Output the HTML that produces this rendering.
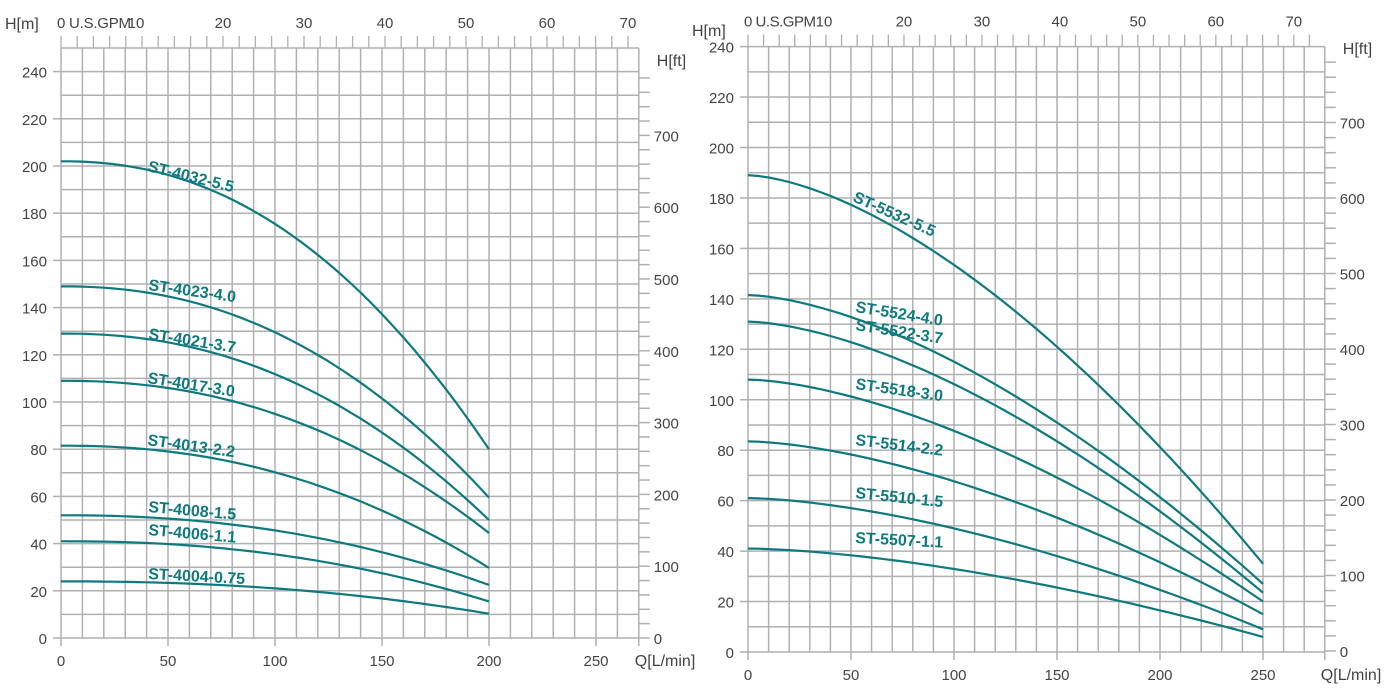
<!DOCTYPE html>
<html><head><meta charset="utf-8"><style>
html,body{margin:0;padding:0;background:#fff;}
svg{display:block;}
text{font-family:"Liberation Sans",sans-serif;fill:#444;}
.lab{font-weight:bold;font-size:16px;fill:#0e7a80;}
</style></head><body>
<svg id="s" width="1398" height="695" xmlns="http://www.w3.org/2000/svg"></svg>
<script>
const s=document.getElementById('s');let h='';
function chart(c){
  const X=q=>c.x0+q*c.sx, Y=m=>c.y0-m*c.sy;
  const right=X(c.qmax), top=Y(c.hmax);
  for(let q=0;q<=c.qmax;q+=10) h+=`<line x1="${X(q)}" y1="${top}" x2="${X(q)}" y2="${c.y0}" stroke="#b0b0b0" stroke-width="1.5"/>`;
  for(let m=0;m<=c.hmax;m+=10) h+=`<line x1="${X(0)}" y1="${Y(m)}" x2="${right}" y2="${Y(m)}" stroke="#b0b0b0" stroke-width="1.5"/>`;
  for(let m=0;m<=c.hmax;m+=20){h+=`<line x1="${X(0)-8}" y1="${Y(m)}" x2="${X(0)}" y2="${Y(m)}" stroke="#b0b0b0" stroke-width="1.5"/>`;
    h+=`<text x="${X(0)-14}" y="${Y(m)+6}" font-size="15" text-anchor="end">${m}</text>`;}
  h+=`<text x="${c.hx}" y="${c.hy}" font-size="16">H[m]</text>`;
  for(let q=0;q<=250;q+=50){h+=`<line x1="${X(q)}" y1="${c.y0}" x2="${X(q)}" y2="${c.y0+8}" stroke="#b0b0b0" stroke-width="1.5"/>`;
    h+=`<text x="${X(q)}" y="${c.y0+28}" font-size="15" text-anchor="middle">${q}</text>`;}
  h+=`<line x1="${right}" y1="${c.y0}" x2="${right}" y2="${c.y0+8}" stroke="#b0b0b0" stroke-width="1.5"/>`;
  h+=`<text x="${right-4}" y="${c.y0+28}" font-size="16">Q[L/min]</text>`;
  for(let g=0;g<=72;g+=2){const x=X(g*3.785);if(x>right+1)break;
    h+=`<line x1="${x}" y1="${top-12}" x2="${x}" y2="${top}" stroke="#b0b0b0" stroke-width="1.3"/>`;
    if(g%10==0&&g>0) h+=`<text x="${x+(g==10?c.tenoff:0)}" y="${top-20}" font-size="15" text-anchor="middle">${g}</text>`;}
  h+=`<text x="${X(0)-4}" y="${top-20}" font-size="15" textLength="${c.gpmw}">0 U.S.GPM</text>`;
  for(let f=0;f<=780;f+=20){const y=c.fy0-f*c.fsy; if(y<top+10)break;
    h+=`<line x1="${right}" y1="${y}" x2="${right+11}" y2="${y}" stroke="#b0b0b0" stroke-width="1.5"/>`;
    if(f%100==0) h+=`<text x="${right+15}" y="${y+6}" font-size="15">${f}</text>`;}
  h+=`<text x="${right+18}" y="${c.fty}" font-size="16">H[ft]</text>`;
  c.curves.forEach(k=>{let p='';for(let i=0;i<=50;i++){const t=i/50;const q=t*c.qend;const m=k[0]-(k[0]-k[1])*Math.pow(t,c.pw);
    p+=(i?'L':'M')+X(q).toFixed(1)+','+Y(m).toFixed(1);}
    h+=`<path d="${p}" fill="none" stroke="#0e7a80" stroke-width="2.2"/>`;});
  c.labels.forEach(l=>{h+=`<text class="lab" transform="translate(${l[1]},${l[2]+3}) rotate(${l[3]})">${l[0]}</text>`;});
}
chart({x0:61,y0:638,sx:2.14,sy:2.36,qmax:270,hmax:250,qend:200,pw:2.2,hx:5,hy:29,fty:66,fy0:638,fsy:0.718,gpmw:74,tenoff:-6,
 curves:[[202,80],[149,59.5],[129,50],[109,44.5],[81.5,29.7],[52,22.5],[41,15.5],[24,10.3]],
 labels:[["ST-4032-5.5",147,168,14],["ST-4023-4.0",148,287,8],["ST-4021-3.7",148,336,9],["ST-4017-3.0",147,380,9],["ST-4013-2.2",147,442,8],["ST-4008-1.5",148,509,5],["ST-4006-1.1",148,532,5],["ST-4004-0.75",148,576,3]]});
chart({x0:748,y0:652,sx:2.06,sy:2.5225,qmax:280,hmax:240,qend:250,pw:1.6,hx:692,hy:36,fty:54,fy0:651,fsy:0.755,gpmw:72,tenoff:-2,
 curves:[[189,35],[141.5,27],[131,23.5],[108,20],[83.5,15],[61,9],[41,6]],
 labels:[["ST-5532-5.5",852,198,24],["ST-5524-4.0",855,309,9],["ST-5522-3.7",855,327,9],["ST-5518-3.0",855,386,8],["ST-5514-2.2",855,442,7],["ST-5510-1.5",855,495,6],["ST-5507-1.1",855,540,3]]});
s.innerHTML=h;
</script>
</body></html>
